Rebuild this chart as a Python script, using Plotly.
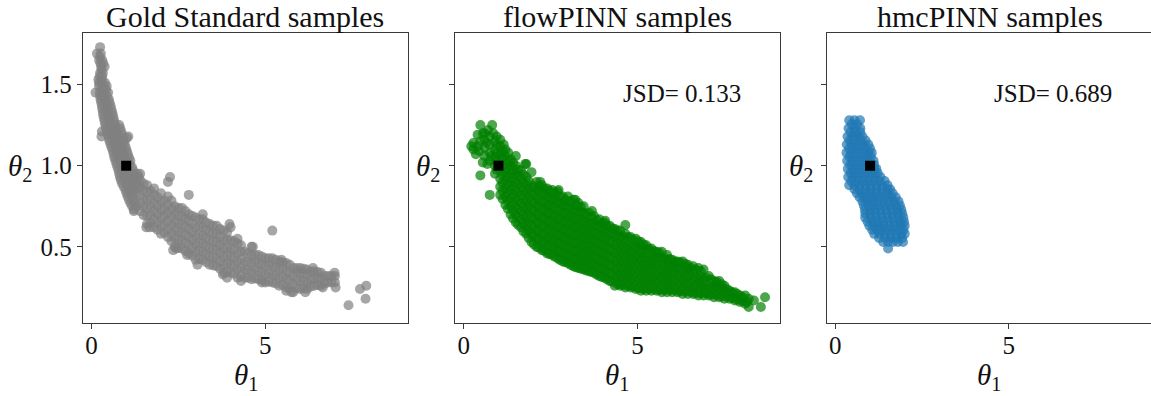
import plotly.graph_objects as go

# ---------------- data ----------------
TITLES = ["Gold Standard samples", "flowPINN samples", "hmcPINN samples"]
JSD_TEXT = [None, "JSD= 0.133", "JSD= 0.689"]
TRUE_THETA1 = [1.0]
TRUE_THETA2 = [1.0]
X_TICKS = [0, 5]
Y_TICKS = [0.5, 1.0, 1.5]
Y_TICK_TEXT = ["0.5", "1.0", "1.5"]

# Gold standard: steep upper arm (rows: theta2 -> theta1 values)
GOLD_ROWS = [
    (1.73, [0.25]),
    (1.69, [0.16, 0.27]),
    (1.65, [0.22, 0.31]),
    (1.61, [0.28, 0.38]),
    (1.57, [0.25, 0.33]),
    (1.53, [0.20, 0.30]),
    (1.49, [0.22, 0.34, 0.44]),
    (1.45, [0.24, 0.36, 0.48]),
    (1.41, [0.26, 0.38, 0.50]),
    (1.37, [0.30, 0.42, 0.55]),
    (1.33, [0.33, 0.46, 0.60]),
    (1.29, [0.36, 0.50, 0.64]),
    (1.25, [0.40, 0.54, 0.68, 0.80]),
    (1.21, [0.30, 0.45, 0.58, 0.72, 0.86]),
    (1.17, [0.50, 0.64, 0.78, 0.92, 1.02]),
    (1.13, [0.55, 0.68, 0.82, 0.96]),
    (1.09, [0.62, 0.74, 0.88, 1.02]),
    (1.05, [0.66, 0.80, 0.94, 1.08]),
    (1.01, [0.72, 0.86, 1.10]),
    (0.97, [0.78, 0.92, 1.06, 1.20]),
    (0.93, [0.82, 0.96, 1.10, 1.24, 1.36]),
    (0.89, [0.88, 1.02, 1.16, 1.30]),
    (0.85, [0.98, 1.10, 1.24]),
    (0.81, [1.04, 1.18]),
    (0.77, [1.12, 1.26]),
    (0.73, [1.22]),
]
GOLD_ROWS_B = [
    (1.67, [0.25]),
    (1.63, [0.26, 0.34]),
    (1.59, [0.29]),
    (1.55, [0.24, 0.31]),
    (1.51, [0.22, 0.30, 0.39]),
    (1.47, [0.30, 0.42]),
    (1.43, [0.25, 0.32, 0.44]),
    (1.39, [0.28, 0.40, 0.52]),
    (1.35, [0.31, 0.44, 0.57]),
    (1.31, [0.34, 0.48, 0.62]),
    (1.27, [0.38, 0.52, 0.66]),
    (1.23, [0.42, 0.56, 0.70, 0.83]),
    (1.19, [0.47, 0.60, 0.74, 0.88]),
    (1.15, [0.52, 0.66, 0.80, 0.94]),
    (1.11, [0.58, 0.71, 0.85, 0.99]),
    (1.07, [0.64, 0.77, 0.91, 1.05]),
    (1.03, [0.69, 0.83, 0.97, 1.12]),
    (0.99, [0.75, 0.89, 1.03, 1.17]),
    (0.95, [0.80, 0.94, 1.08, 1.22, 1.32]),
    (0.91, [0.85, 0.99, 1.13, 1.27]),
    (0.87, [0.93, 1.06, 1.20, 1.34]),
    (0.83, [1.01, 1.14, 1.28]),
    (0.79, [1.08, 1.22]),
    (0.75, [1.17, 1.30]),
]
# Gold standard: long lower arm (columns: theta1 -> theta2 values)
GOLD_COLS = [
    (1.40, [0.72, 0.77, 0.82, 0.87, 0.91]),
    (1.60, [0.64, 0.69, 0.74, 0.79, 0.84, 0.88]),
    (1.80, [0.62, 0.67, 0.72, 0.77, 0.82, 0.86]),
    (2.00, [0.58, 0.63, 0.68, 0.73, 0.78, 0.83]),
    (2.20, [0.56, 0.61, 0.66, 0.71, 0.76, 0.81, 0.90]),
    (2.40, [0.50, 0.55, 0.60, 0.65, 0.70, 0.75]),
    (2.60, [0.49, 0.54, 0.59, 0.64, 0.69, 0.74]),
    (2.80, [0.46, 0.51, 0.56, 0.61, 0.66, 0.70, 0.82]),
    (3.00, [0.42, 0.47, 0.52, 0.57, 0.62, 0.68]),
    (3.20, [0.42, 0.47, 0.52, 0.57, 0.62, 0.67]),
    (3.40, [0.39, 0.44, 0.49, 0.54, 0.59, 0.64]),
    (3.60, [0.38, 0.43, 0.48, 0.53, 0.58, 0.63]),
    (3.80, [0.34, 0.39, 0.44, 0.49, 0.54, 0.60]),
    (4.00, [0.34, 0.39, 0.44, 0.49, 0.54, 0.62]),
    (4.20, [0.31, 0.36, 0.41, 0.46, 0.52]),
    (4.40, [0.31, 0.36, 0.41, 0.47]),
    (4.60, [0.30, 0.35, 0.40, 0.45, 0.50]),
    (4.80, [0.30, 0.35, 0.40, 0.45]),
    (5.00, [0.28, 0.33, 0.38, 0.43]),
    (5.20, [0.28, 0.33, 0.38, 0.43, 0.60]),
    (5.40, [0.26, 0.31, 0.36, 0.41]),
    (5.60, [0.25, 0.30, 0.35, 0.40]),
    (5.80, [0.22, 0.27, 0.32, 0.37]),
    (6.00, [0.24, 0.29, 0.34, 0.37]),
    (6.20, [0.24, 0.28, 0.33, 0.36]),
    (6.40, [0.26, 0.30, 0.35]),
    (6.60, [0.26, 0.31, 0.34]),
    (6.80, [0.28, 0.32]),
    (7.00, [0.28, 0.32]),
]
GOLD_COLS_B = [
    (1.50, [0.695, 0.745, 0.795, 0.845, 0.89]),
    (1.70, [0.645, 0.695, 0.745, 0.795, 0.845]),
    (1.90, [0.605, 0.655, 0.705, 0.755, 0.805]),
    (2.10, [0.585, 0.635, 0.685, 0.735, 0.785]),
    (2.30, [0.535, 0.585, 0.635, 0.685, 0.735, 0.785]),
    (2.50, [0.495, 0.545, 0.595, 0.645, 0.695, 0.74]),
    (2.70, [0.475, 0.525, 0.575, 0.625, 0.675, 0.72]),
    (2.90, [0.445, 0.495, 0.545, 0.595, 0.645, 0.69]),
    (3.10, [0.425, 0.475, 0.525, 0.575, 0.625, 0.67]),
    (3.30, [0.405, 0.455, 0.505, 0.555, 0.605, 0.65]),
    (3.50, [0.385, 0.435, 0.485, 0.535, 0.585, 0.63]),
    (3.70, [0.365, 0.415, 0.465, 0.515, 0.565, 0.61]),
    (3.90, [0.345, 0.395, 0.445, 0.495, 0.545, 0.59]),
    (4.10, [0.335, 0.385, 0.435, 0.485, 0.535]),
    (4.30, [0.32, 0.37, 0.42, 0.47, 0.51]),
    (4.50, [0.31, 0.36, 0.41, 0.46]),
    (4.70, [0.305, 0.355, 0.405, 0.45]),
    (4.90, [0.295, 0.345, 0.395, 0.44]),
    (5.10, [0.285, 0.335, 0.385, 0.43]),
    (5.30, [0.275, 0.325, 0.375, 0.42]),
    (5.50, [0.265, 0.315, 0.365, 0.405]),
    (5.70, [0.245, 0.295, 0.345, 0.39]),
    (5.90, [0.245, 0.295, 0.345, 0.37]),
    (6.10, [0.245, 0.29, 0.335, 0.365]),
    (6.30, [0.255, 0.30, 0.345]),
    (6.50, [0.265, 0.31, 0.345]),
    (6.70, [0.275, 0.32]),
    (6.90, [0.28, 0.32]),
]
GOLD_EXTRA = [(7.39, 0.14), (7.72, 0.24), (7.90, 0.26), (7.88, 0.18), (1.22, 0.72),
              (1.58, 0.62), (2.35, 0.48), (3.05, 0.39), (3.90, 0.31), (4.30, 0.29),
              (6.15, 0.22), (6.65, 0.25), (3.97, 0.64), (5.75, 0.22), (7.02, 0.25),
              (2.26, 0.93), (3.20, 0.70), (4.20, 0.55), (4.64, 0.50), (5.46, 0.42),
              (6.37, 0.37), (6.99, 0.34), (2.44, 0.49), (3.78, 0.33), (5.60, 0.23),
              (1.40, 0.95), (1.06, 1.18), (1.67, 0.62), (2.75, 0.45), (4.90, 0.28),
              (0.29, 1.18), (0.12, 1.45)]

# flowPINN (columns: theta1 -> theta2 values)
FLOW_COLS = [
    (0.28, [1.10, 1.14]),
    (0.40, [1.12, 1.19]),
    (0.48, [0.94, 1.15, 1.25]),
    (0.60, [1.06, 1.11, 1.16, 1.20]),
    (0.75, [0.82, 1.03, 1.08, 1.13, 1.18]),
    (0.82, [1.25]),
    (0.90, [0.95, 1.00, 1.05, 1.10, 1.15]),
    (1.05, [0.82, 0.87, 0.92, 0.97, 1.02, 1.07, 1.12]),
    (1.20, [0.76, 0.81, 0.86, 0.91, 0.96, 1.01, 1.06, 1.10]),
    (1.35, [0.70, 0.75, 0.80, 0.85, 0.90, 0.95, 1.00, 1.04]),
    (1.50, [0.65, 0.70, 0.75, 0.80, 0.85, 0.90, 0.95, 1.00, 1.06]),
    (1.65, [0.62, 0.67, 0.72, 0.77, 0.82, 0.87, 0.92, 0.97]),
    (1.80, [0.58, 0.63, 0.68, 0.73, 0.78, 0.83, 0.88, 0.93, 1.01]),
    (1.95, [0.53, 0.58, 0.63, 0.68, 0.73, 0.78, 0.83, 0.88, 0.96]),
    (2.10, [0.50, 0.55, 0.60, 0.65, 0.70, 0.75, 0.80, 0.85, 0.90]),
    (2.25, [0.48, 0.53, 0.58, 0.63, 0.68, 0.73, 0.78, 0.83, 0.88]),
    (2.40, [0.46, 0.51, 0.56, 0.61, 0.66, 0.71, 0.76, 0.81, 0.86]),
    (2.55, [0.45, 0.50, 0.55, 0.60, 0.65, 0.70, 0.75, 0.80, 0.85]),
    (2.70, [0.43, 0.48, 0.53, 0.58, 0.63, 0.68, 0.73, 0.78, 0.84]),
    (2.85, [0.41, 0.46, 0.51, 0.56, 0.61, 0.66, 0.71, 0.76, 0.81]),
    (3.00, [0.40, 0.45, 0.50, 0.55, 0.60, 0.65, 0.70, 0.75, 0.81]),
    (3.15, [0.38, 0.43, 0.48, 0.53, 0.58, 0.63, 0.68, 0.73, 0.79]),
    (3.30, [0.37, 0.42, 0.47, 0.52, 0.57, 0.62, 0.67, 0.72, 0.77]),
    (3.45, [0.36, 0.41, 0.46, 0.51, 0.56, 0.61, 0.66, 0.71, 0.75]),
    (3.60, [0.35, 0.40, 0.45, 0.50, 0.55, 0.60, 0.65, 0.71]),
    (3.75, [0.34, 0.39, 0.44, 0.49, 0.54, 0.59, 0.64, 0.69]),
    (3.90, [0.32, 0.37, 0.42, 0.47, 0.52, 0.57, 0.62, 0.67]),
    (4.05, [0.31, 0.36, 0.41, 0.46, 0.51, 0.56, 0.61, 0.65]),
    (4.20, [0.29, 0.34, 0.39, 0.44, 0.49, 0.54, 0.59, 0.63]),
    (4.35, [0.26, 0.31, 0.36, 0.41, 0.46, 0.51, 0.56, 0.61]),
    (4.50, [0.26, 0.31, 0.36, 0.41, 0.46, 0.51, 0.56, 0.60]),
    (4.65, [0.25, 0.30, 0.35, 0.40, 0.45, 0.50, 0.55, 0.58, 0.635]),
    (4.80, [0.25, 0.30, 0.35, 0.40, 0.45, 0.50, 0.56]),
    (4.95, [0.24, 0.29, 0.34, 0.39, 0.44, 0.49, 0.55]),
    (5.10, [0.23, 0.28, 0.33, 0.38, 0.43, 0.48, 0.53]),
    (5.25, [0.23, 0.28, 0.33, 0.38, 0.43, 0.48, 0.51]),
    (5.40, [0.23, 0.28, 0.33, 0.38, 0.43, 0.49]),
    (5.55, [0.23, 0.28, 0.33, 0.38, 0.43, 0.47]),
    (5.70, [0.22, 0.27, 0.32, 0.37, 0.42, 0.47]),
    (5.85, [0.22, 0.27, 0.32, 0.37, 0.42, 0.45]),
    (6.00, [0.22, 0.27, 0.32, 0.37, 0.42]),
    (6.15, [0.22, 0.27, 0.32, 0.37, 0.41]),
    (6.30, [0.21, 0.26, 0.31, 0.36, 0.41]),
    (6.45, [0.21, 0.26, 0.31, 0.36, 0.39]),
    (6.60, [0.21, 0.25, 0.30, 0.35, 0.38]),
    (6.75, [0.20, 0.25, 0.30, 0.37]),
    (6.90, [0.20, 0.25, 0.30, 0.36]),
    (7.05, [0.20, 0.25, 0.32]),
    (7.20, [0.19, 0.24, 0.29]),
    (7.35, [0.19, 0.24, 0.29]),
    (7.50, [0.18, 0.23, 0.26]),
    (7.65, [0.18, 0.23]),
    (7.80, [0.17, 0.22]),
    (7.95, [0.16, 0.20]),
    (8.10, [0.15, 0.20]),
    (8.20, [0.13, 0.18]),
    (8.35, [0.17]),
    (8.55, [0.13]),
    (8.67, [0.19]),
]
FLOW_COLS_B = [
    (0.95, [0.975, 1.025, 1.075, 1.125]),
    (1.12, [0.795, 0.845, 0.895, 0.945, 0.995, 1.045, 1.085]),
    (1.27, [0.735, 0.785, 0.835, 0.885, 0.935, 0.985, 1.035]),
    (1.42, [0.675, 0.725, 0.775, 0.825, 0.875, 0.925, 0.975, 1.02]),
    (1.57, [0.635, 0.685, 0.735, 0.785, 0.835, 0.885, 0.935, 0.975]),
    (1.72, [0.595, 0.645, 0.695, 0.745, 0.795, 0.845, 0.895, 0.945]),
    (1.87, [0.555, 0.605, 0.655, 0.705, 0.755, 0.805, 0.855, 0.905]),
    (2.02, [0.515, 0.565, 0.615, 0.665, 0.715, 0.765, 0.815, 0.865]),
    (2.17, [0.495, 0.545, 0.595, 0.645, 0.695, 0.745, 0.795, 0.845, 0.875]),
    (2.32, [0.475, 0.525, 0.575, 0.625, 0.675, 0.725, 0.775, 0.825, 0.86]),
    (2.47, [0.455, 0.505, 0.555, 0.605, 0.655, 0.705, 0.755, 0.805, 0.845]),
    (2.62, [0.44, 0.49, 0.54, 0.59, 0.64, 0.69, 0.74, 0.79, 0.83]),
    (2.77, [0.42, 0.47, 0.52, 0.57, 0.62, 0.67, 0.72, 0.77, 0.81]),
    (2.92, [0.405, 0.455, 0.505, 0.555, 0.605, 0.655, 0.705, 0.755, 0.79]),
    (3.07, [0.39, 0.44, 0.49, 0.54, 0.59, 0.64, 0.69, 0.74, 0.78]),
    (3.22, [0.375, 0.425, 0.475, 0.525, 0.575, 0.625, 0.675, 0.725, 0.76]),
    (3.37, [0.365, 0.415, 0.465, 0.515, 0.565, 0.615, 0.665, 0.715, 0.745]),
    (3.52, [0.355, 0.405, 0.455, 0.505, 0.555, 0.605, 0.655, 0.70]),
    (3.67, [0.345, 0.395, 0.445, 0.495, 0.545, 0.595, 0.645, 0.685]),
    (3.82, [0.33, 0.38, 0.43, 0.48, 0.53, 0.58, 0.63, 0.665]),
    (3.97, [0.315, 0.365, 0.415, 0.465, 0.515, 0.565, 0.615, 0.645]),
    (4.12, [0.30, 0.35, 0.40, 0.45, 0.50, 0.55, 0.60, 0.63]),
    (4.27, [0.285, 0.335, 0.385, 0.435, 0.485, 0.535, 0.585, 0.615]),
    (4.42, [0.27, 0.32, 0.37, 0.42, 0.47, 0.52, 0.57, 0.60]),
    (4.57, [0.265, 0.315, 0.365, 0.415, 0.465, 0.515, 0.565]),
    (4.72, [0.26, 0.31, 0.36, 0.41, 0.46, 0.51, 0.56]),
    (4.87, [0.255, 0.305, 0.355, 0.405, 0.455, 0.505, 0.545]),
    (5.02, [0.245, 0.295, 0.345, 0.395, 0.445, 0.495, 0.535]),
    (5.17, [0.24, 0.29, 0.34, 0.39, 0.44, 0.49, 0.515]),
    (5.32, [0.24, 0.29, 0.34, 0.39, 0.44, 0.49]),
    (5.47, [0.24, 0.29, 0.34, 0.39, 0.44, 0.475]),
    (5.62, [0.235, 0.285, 0.335, 0.385, 0.435, 0.465]),
    (5.77, [0.235, 0.285, 0.335, 0.385, 0.43]),
    (5.92, [0.235, 0.285, 0.335, 0.385, 0.425]),
    (6.07, [0.235, 0.285, 0.335, 0.385, 0.41]),
    (6.22, [0.225, 0.275, 0.325, 0.375, 0.405]),
    (6.37, [0.225, 0.275, 0.325, 0.375, 0.395]),
    (6.52, [0.225, 0.275, 0.325, 0.37]),
    (6.67, [0.215, 0.265, 0.315, 0.36]),
    (6.82, [0.215, 0.265, 0.315, 0.35]),
    (6.97, [0.215, 0.265, 0.31]),
    (7.12, [0.205, 0.255, 0.30]),
    (7.27, [0.205, 0.255, 0.285]),
    (7.42, [0.195, 0.245, 0.27]),
    (7.57, [0.195, 0.24]),
    (7.72, [0.185, 0.22]),
    (7.87, [0.175, 0.21]),
    (8.02, [0.165, 0.19]),
    (8.15, [0.16]),
]
FLOW_EXTRA = [(0.22, 1.12), (0.35, 1.07), (0.55, 1.02), (0.68, 1.01), (0.70, 1.22),
              (0.95, 1.18), (1.05, 1.16), (1.15, 1.13), (0.85, 1.20), (0.55, 1.20),
              (0.45, 1.09), (0.66, 1.14), (0.80, 1.06), (1.28, 1.08), (1.77, 1.01),
              (2.20, 0.90), (2.73, 0.85), (3.21, 0.79), (3.69, 0.72), (4.07, 0.66)]

# hmcPINN (rows: theta2 -> theta1 values)
HMC_ROWS = [
    (1.28, [0.40, 0.55, 0.71]),
    (1.23, [0.38, 0.55, 0.72]),
    (1.18, [0.35, 0.50, 0.65, 0.78]),
    (1.13, [0.33, 0.48, 0.63, 0.80, 0.95]),
    (1.08, [0.32, 0.47, 0.62, 0.78, 0.95, 1.05]),
    (1.03, [0.34, 0.49, 0.64, 0.80, 0.95, 1.10]),
    (0.98, [0.36, 0.51, 0.66, 0.82, 0.97, 1.12, 1.18]),
    (0.93, [0.37, 0.52, 0.67, 0.84, 1.00, 1.15, 1.30]),
    (0.88, [0.40, 0.55, 0.70, 0.86, 1.02, 1.18, 1.34, 1.50]),
    (0.83, [0.62, 0.76, 0.90, 1.04, 1.18, 1.34, 1.50, 1.65]),
    (0.78, [0.78, 0.92, 1.06, 1.20, 1.36, 1.52, 1.68, 1.82]),
    (0.73, [0.85, 1.00, 1.15, 1.30, 1.46, 1.62, 1.78, 1.90]),
    (0.68, [0.86, 1.02, 1.18, 1.34, 1.50, 1.66, 1.82, 1.96]),
    (0.63, [0.98, 1.12, 1.26, 1.40, 1.56, 1.72, 1.88, 2.00]),
    (0.58, [1.12, 1.27, 1.42, 1.58, 1.74, 1.90, 2.00]),
    (0.53, [1.38, 1.52, 1.66, 1.80, 1.95]),
    (0.49, [1.52]),
]
HMC_ROWS_B = [
    (1.255, [0.47, 0.63]),
    (1.205, [0.44, 0.58, 0.72]),
    (1.155, [0.41, 0.56, 0.72, 0.87]),
    (1.105, [0.40, 0.55, 0.70, 0.86, 1.00]),
    (1.055, [0.41, 0.56, 0.72, 0.88, 1.02]),
    (1.005, [0.43, 0.58, 0.73, 0.88, 1.04, 1.12]),
    (0.955, [0.44, 0.60, 0.75, 0.91, 1.07, 1.22]),
    (0.905, [0.46, 0.62, 0.78, 0.94, 1.10, 1.26, 1.42]),
    (0.855, [0.55, 0.70, 0.86, 1.02, 1.18, 1.34, 1.50, 1.58]),
    (0.805, [0.70, 0.84, 0.98, 1.12, 1.28, 1.44, 1.60, 1.74]),
    (0.755, [0.82, 0.96, 1.10, 1.25, 1.41, 1.57, 1.73, 1.86]),
    (0.705, [0.86, 1.01, 1.16, 1.32, 1.48, 1.64, 1.80, 1.93]),
    (0.655, [0.93, 1.08, 1.23, 1.38, 1.54, 1.70, 1.86, 1.98]),
    (0.605, [1.06, 1.20, 1.34, 1.50, 1.66, 1.82, 1.96]),
    (0.555, [1.26, 1.44, 1.60, 1.76, 1.92]),
]


def from_rows(rows):
    xs, ys = [], []
    for yv, xl in rows:
        for xv in xl:
            xs.append(xv)
            ys.append(yv)
    return xs, ys


def from_cols(cols):
    xs, ys = [], []
    for xv, yl in cols:
        for yv in yl:
            xs.append(xv)
            ys.append(yv)
    return xs, ys


def gather(row_sets, col_sets, extra=()):
    xs, ys = [], []
    for r in row_sets:
        a, b = from_rows(r)
        xs += a
        ys += b
    for c in col_sets:
        a, b = from_cols(c)
        xs += a
        ys += b
    xs += [p[0] for p in extra]
    ys += [p[1] for p in extra]
    return xs, ys


gold_x, gold_y = gather([GOLD_ROWS, GOLD_ROWS_B], [GOLD_COLS, GOLD_COLS_B], GOLD_EXTRA)
flow_x, flow_y = gather([], [FLOW_COLS, FLOW_COLS_B], FLOW_EXTRA)
hmc_x, hmc_y = gather([HMC_ROWS, HMC_ROWS_B], [])

SERIES = [(gold_x, gold_y, "#808080"), (flow_x, flow_y, "#008000"), (hmc_x, hmc_y, "#1f77b4")]

# ---------------- layout geometry ----------------
W, H = 1151, 396
PANEL_PX = [(82.7, 408.0), (455.0, 780.0), (826.7, 1151.0)]
TOP_PX, BOT_PX = 33.0, 323.0
XR = [-0.25, 9.1]
YR = [0.031, 1.817]
FONT = "Liberation Serif"
AX_COLOR = "#3a3a3a"

fig = go.Figure()
annotations = []
for i, (xs, ys, col) in enumerate(SERIES):
    ax = "" if i == 0 else str(i + 1)
    fig.add_trace(go.Scatter(
        x=xs, y=ys, mode="markers", xaxis="x" + ax, yaxis="y" + ax,
        marker=dict(size=10, color=col, opacity=0.7, line=dict(width=0)),
        showlegend=False, hoverinfo="skip"))
    fig.add_trace(go.Scatter(
        x=TRUE_THETA1, y=TRUE_THETA2, mode="markers", xaxis="x" + ax, yaxis="y" + ax,
        marker=dict(size=10, color="black", symbol="square", line=dict(width=0)),
        showlegend=False, hoverinfo="skip"))

    l, r = PANEL_PX[i]
    common = dict(showline=True, mirror=True, linecolor=AX_COLOR, linewidth=1,
                  ticks="outside", ticklen=5, tickwidth=1, tickcolor=AX_COLOR,
                  showgrid=False, zeroline=False,
                  tickfont=dict(family=FONT, size=25, color="#111"))
    fig.layout["xaxis" + ax] = dict(common, domain=[l / W, min(r / W, 1.0)], range=XR,
                                     tickvals=X_TICKS, anchor="y" + ax, ticklabelstandoff=-5)
    fig.layout["yaxis" + ax] = dict(common, domain=[1 - BOT_PX / H, 1 - TOP_PX / H], range=YR,
                                     tickvals=Y_TICKS,
                                     ticktext=Y_TICK_TEXT if i == 0 else ["", "", ""],
                                     showticklabels=(i == 0), anchor="x" + ax)
    annotations.append(dict(text=TITLES[i], xref="paper", yref="paper",
                            x=((l + r + (1.7 if i == 2 else 0)) / 2) / W, y=1 - 16 / H,
                            xanchor="center", yanchor="middle", showarrow=False,
                            font=dict(family=FONT, size=30, color="#111")))
    xl_center = [245.5, 616.5, 989.5][i]
    annotations.append(dict(text="<i>θ</i><sub>1</sub>", xref="paper", yref="paper",
                            x=xl_center / W, y=1 - 377 / H, xanchor="center", yanchor="middle",
                            showarrow=False, font=dict(family=FONT, size=29, color="#111")))
    yl_center = [20.0, 428.0, 801.0][i]
    annotations.append(dict(text="<i>θ</i><sub>2</sub>", xref="paper", yref="paper",
                            x=yl_center / W, y=1 - 168 / H, xanchor="center", yanchor="middle",
                            showarrow=False, font=dict(family=FONT, size=29, color="#111")))
    if JSD_TEXT[i]:
        annotations.append(dict(text=JSD_TEXT[i], xref="x" + ax, yref="y" + ax,
                                x=4.53, y=1.445, xanchor="left", yanchor="middle",
                                showarrow=False, font=dict(family=FONT, size=25, color="#111")))

fig.update_layout(width=W, height=H, margin=dict(l=0, r=0, t=0, b=0),
                  paper_bgcolor="white", plot_bgcolor="white",
                  annotations=annotations, showlegend=False)
fig.write_html("out.html")
